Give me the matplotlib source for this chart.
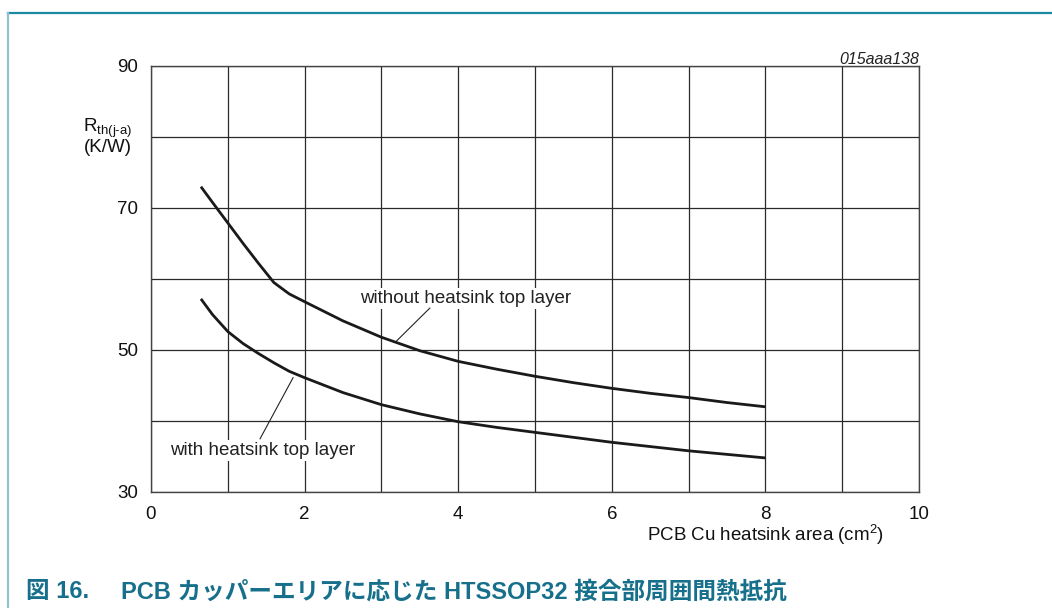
import matplotlib
matplotlib.use("Agg")
import matplotlib.pyplot as plt
from matplotlib.lines import Line2D

plt.rcParams['font.family'] = ['Liberation Sans', 'DejaVu Sans']
plt.rcParams['mathtext.fontset'] = 'custom'
plt.rcParams['mathtext.rm'] = 'Liberation Sans'
plt.rcParams['mathtext.it'] = 'Liberation Sans:italic'

# data
x_without = [0.65, 0.8, 1.0, 1.2, 1.4, 1.6, 1.8, 2.0, 2.5, 3.0, 3.5, 4.0, 4.5, 5.0, 5.5, 6.0, 6.5, 7.0, 7.5, 8.0]
y_without = [73.0, 70.8, 67.9, 65.0, 62.2, 59.5, 57.9, 56.8, 54.1, 51.8, 49.9, 48.4, 47.3, 46.3, 45.4, 44.6, 43.9, 43.3, 42.6, 42.0]
x_with = [0.65, 0.8, 1.0, 1.2, 1.4, 1.6, 1.8, 2.0, 2.5, 3.0, 3.5, 4.0, 4.5, 5.0, 5.5, 6.0, 6.5, 7.0, 7.5, 8.0]
y_with = [57.2, 55.0, 52.6, 50.9, 49.5, 48.2, 47.0, 46.1, 44.0, 42.3, 41.0, 39.9, 39.1, 38.4, 37.7, 37.0, 36.4, 35.8, 35.3, 34.8]
xticks_major = [0, 2, 4, 6, 8, 10]
yticks_major = [30, 50, 70, 90]
label_without = "without heatsink top layer"
label_with = "with heatsink top layer"

W, H = 1052, 608
fig = plt.figure(figsize=(W / 100, H / 100), dpi=100)
ax = fig.add_axes([151 / W, 1 - 492 / H, (919 - 151) / W, (492 - 66) / H])

ax.set_xlim(0, 10)
ax.set_ylim(30, 90)
ax.set_xticks(xticks_major)
ax.set_yticks(yticks_major)
ax.set_xticks(range(0, 11), minor=True)
ax.set_yticks(range(30, 91, 10), minor=True)
ax.grid(True, which='both', color='#2a2a2a', linewidth=0.9)
ax.tick_params(which='both', length=0, labelsize=13.5, colors='#111111')
ax.tick_params(axis='x', pad=10)
ax.tick_params(axis='y', pad=9)
for s in ax.spines.values():
    s.set_color('#444444')
    s.set_linewidth(1.0)

ax.plot(x_without, y_without, color='#1a1a1a', lw=2.0, solid_capstyle='butt', zorder=3)
ax.plot(x_with, y_with, color='#1a1a1a', lw=2.0, solid_capstyle='butt', zorder=3)

ax.text(4.09, 57.3, label_without, ha='center', va='center', fontsize=13.5,
        color='#222222', bbox=dict(facecolor='white', edgecolor='none', pad=1.5), zorder=4)
ax.text(1.46, 35.8, label_with, ha='center', va='center', fontsize=13.5,
        color='#222222', bbox=dict(facecolor='white', edgecolor='none', pad=1.5), zorder=4)
ax.plot([3.63, 3.20], [55.9, 51.3], color='#222222', lw=0.8, zorder=4)
ax.plot([1.42, 1.85], [37.5, 46.1], color='#222222', lw=0.8, zorder=4)

# y label
fig.text(108 / W, 1 - 128 / H, r'R$_{\mathrm{th(j\text{-}a)}}$', ha='center', va='center', fontsize=13.5, color='#111111')
fig.text(108 / W, 1 - 148 / H, '(K/W)', ha='center', va='center', fontsize=13.5, color='#111111')
# x label
fig.text(766 / W, 1 - 535 / H, r'PCB Cu heatsink area (cm$^{\mathrm{2}}$)', ha='center', va='center', fontsize=13.5, color='#111111')
# figure id
fig.text(919 / W, 1 - 59 / H, '015aaa138', ha='right', va='center', fontsize=11.5, style='italic', color='#222222')

# border
fig.add_artist(Line2D([8 / W, 1.0], [1 - 12.5 / H, 1 - 12.5 / H], color='#1a8aa3', lw=1.6))
fig.add_artist(Line2D([8 / W, 8 / W], [0, 1 - 12.5 / H], color='#8fc3cf', lw=1.6))

# caption
cap_font = ['Liberation Sans', 'Noto Sans CJK JP']
fig.text(26 / W, 1 - 592 / H, '図 16.', ha='left', va='center', fontsize=17, fontweight='bold',
         color='#17708b', family=cap_font)
fig.text(121 / W, 1 - 592 / H, 'PCB カッパーエリアに応じた HTSSOP32 接合部周囲間熱抵抗', ha='left', va='center',
         fontsize=17, fontweight='bold', color='#17708b', family=cap_font)

fig.savefig('out.png', dpi=100)
